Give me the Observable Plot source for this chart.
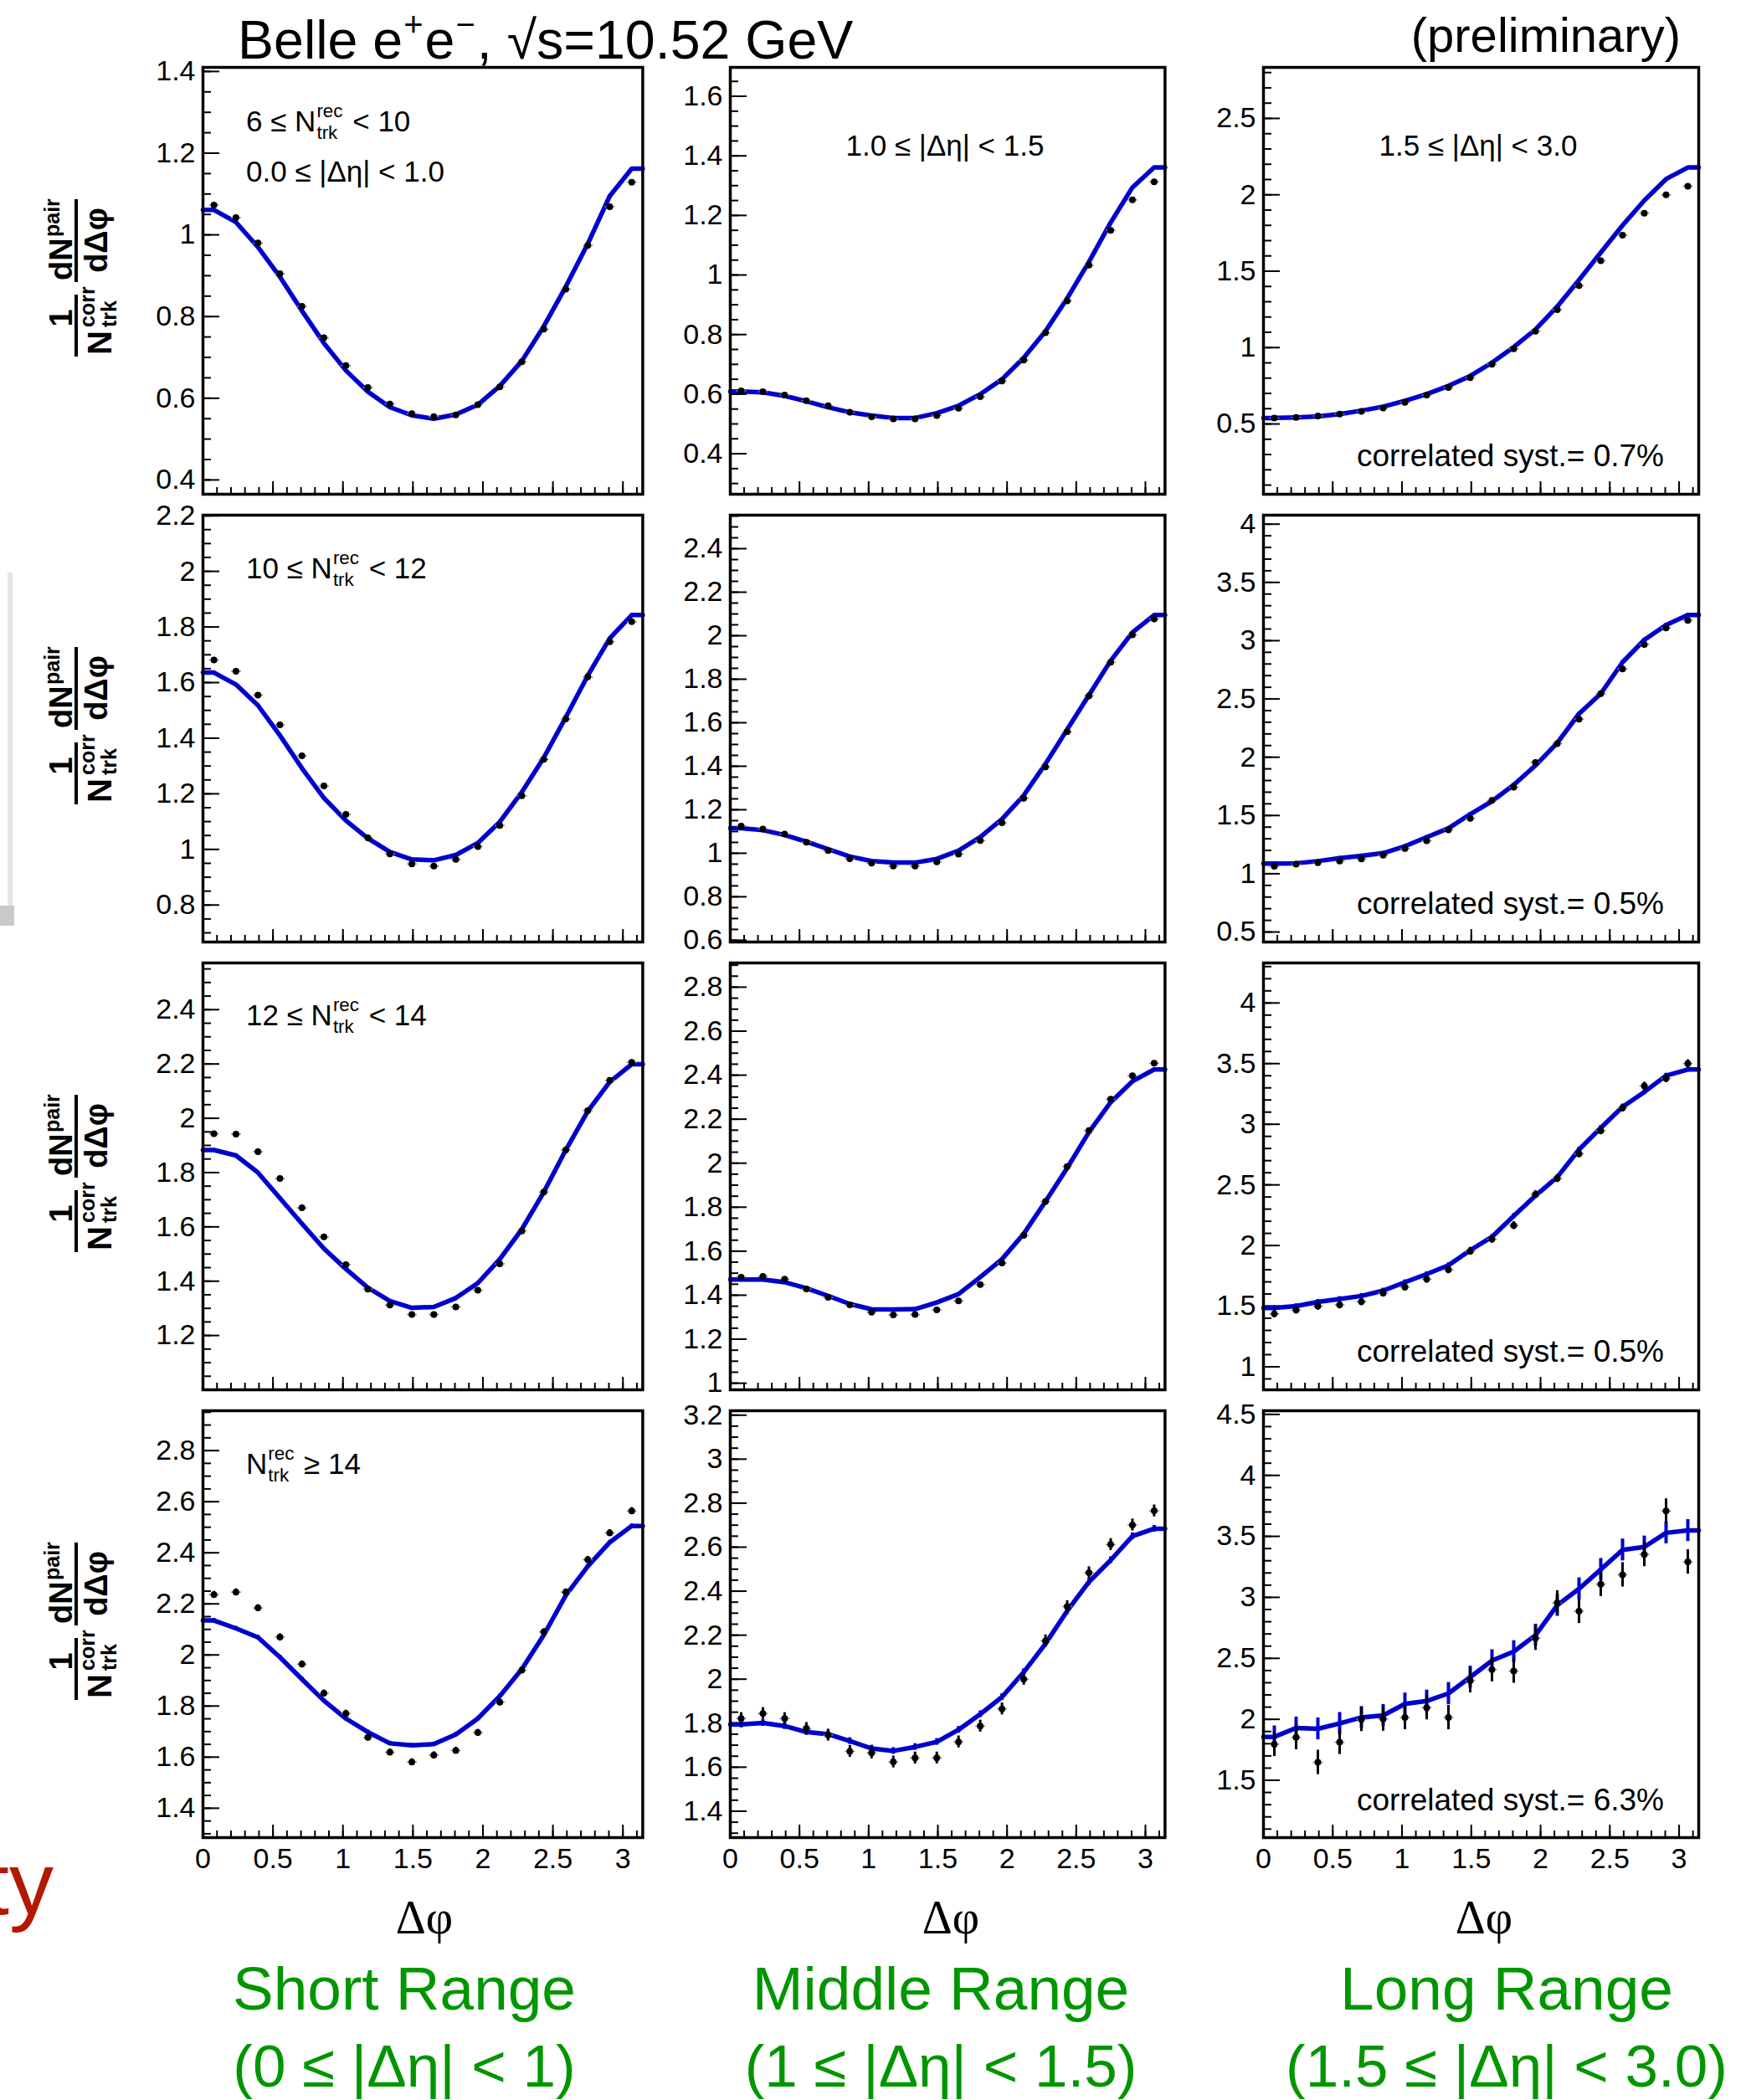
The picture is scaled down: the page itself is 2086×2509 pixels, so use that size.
<!DOCTYPE html>
<html><head><meta charset="utf-8">
<script src="https://cdn.jsdelivr.net/npm/d3@7"></script>
<script src="https://cdn.jsdelivr.net/npm/@observablehq/plot@0.6"></script>
<style>
body{margin:0;background:#fff;}
#root{position:relative;width:2086px;height:2509px;overflow:hidden;background:#fff;font-family:"Liberation Sans",Arial,sans-serif;}
#root > svg{position:absolute;}
</style></head><body><div id="root"></div>
<script>
// ---------- data ----------
const binCenters = [0.0785,0.2356,0.3927,0.5498,0.7069,0.8639,1.0210,1.1781,1.3352,1.4923,1.6493,1.8064,1.9635,2.1206,2.2777,2.4347,2.5918,2.7489,2.9060,3.0631];
const xTickValues = [0,0.5,1,1.5,2,2.5,3];

// 6 <= Ntrk < 10
const data6to10Short  = [1.073,1.042,0.980,0.905,0.825,0.748,0.680,0.626,0.586,0.562,0.555,0.559,0.584,0.628,0.689,0.769,0.867,0.974,1.069,1.129];
const fit6to10Short   = [1.061,1.031,0.970,0.897,0.814,0.735,0.668,0.616,0.578,0.558,0.550,0.560,0.584,0.630,0.691,0.776,0.873,0.978,1.095,1.162];
const data6to10Middle = [0.611,0.608,0.597,0.578,0.561,0.539,0.524,0.517,0.517,0.528,0.553,0.591,0.644,0.714,0.806,0.913,1.033,1.150,1.252,1.313];
const fit6to10Middle  = [0.609,0.606,0.594,0.576,0.556,0.539,0.528,0.520,0.520,0.536,0.561,0.600,0.650,0.722,0.811,0.922,1.044,1.176,1.294,1.361];
const data6to10Long   = [0.539,0.543,0.552,0.565,0.582,0.604,0.641,0.689,0.738,0.803,0.890,0.992,1.107,1.248,1.406,1.568,1.735,1.880,2.000,2.056];
const fit6to10Long    = [0.539,0.543,0.550,0.565,0.587,0.613,0.652,0.695,0.749,0.814,0.901,1.003,1.118,1.269,1.443,1.622,1.800,1.963,2.103,2.179];
// 10 <= Ntrk < 12
const data10to12Short  = [1.681,1.641,1.555,1.448,1.337,1.228,1.126,1.042,0.984,0.948,0.940,0.964,1.010,1.086,1.193,1.324,1.469,1.620,1.747,1.819];
const fit10to12Short   = [1.636,1.593,1.518,1.410,1.292,1.185,1.104,1.040,0.991,0.964,0.961,0.980,1.023,1.099,1.206,1.330,1.475,1.625,1.759,1.843];
const data10to12Middle = [1.125,1.111,1.088,1.051,1.012,0.975,0.955,0.941,0.941,0.960,0.996,1.058,1.140,1.253,1.397,1.559,1.723,1.878,2.004,2.077];
const fit10to12Middle  = [1.115,1.106,1.084,1.053,1.019,0.985,0.964,0.957,0.957,0.974,1.012,1.074,1.157,1.266,1.411,1.569,1.727,1.885,2.015,2.095];
const data10to12Long   = [1.064,1.082,1.095,1.108,1.126,1.159,1.216,1.283,1.377,1.475,1.629,1.742,1.955,2.117,2.327,2.545,2.758,2.968,3.109,3.174];
const fit10to12Long    = [1.088,1.090,1.108,1.134,1.154,1.177,1.236,1.313,1.390,1.511,1.622,1.762,1.929,2.122,2.373,2.545,2.815,3.007,3.135,3.220];
// 12 <= Ntrk < 14
const data12to14Short  = [1.943,1.942,1.877,1.778,1.670,1.563,1.461,1.371,1.312,1.277,1.277,1.305,1.367,1.464,1.585,1.728,1.883,2.028,2.140,2.206];
const fit12to14Short   = [1.883,1.863,1.800,1.706,1.612,1.520,1.445,1.376,1.327,1.302,1.305,1.338,1.393,1.481,1.591,1.728,1.883,2.026,2.134,2.199];
const data12to14Middle = [1.482,1.485,1.473,1.428,1.390,1.356,1.323,1.310,1.312,1.333,1.374,1.448,1.546,1.672,1.826,1.985,2.148,2.291,2.397,2.454];
const fit12to14Middle  = [1.471,1.471,1.459,1.432,1.397,1.360,1.336,1.335,1.337,1.367,1.405,1.482,1.564,1.679,1.826,1.978,2.141,2.277,2.372,2.426];
const data12to14Long   = [1.436,1.468,1.500,1.510,1.537,1.608,1.658,1.722,1.800,1.953,2.052,2.165,2.421,2.552,2.756,2.946,3.135,3.315,3.377,3.500];
const fit12to14Long    = [1.485,1.500,1.535,1.559,1.584,1.628,1.697,1.764,1.837,1.961,2.071,2.244,2.411,2.564,2.791,2.970,3.143,3.266,3.401,3.451];
// Ntrk >= 14
const data14upShort  = [2.236,2.246,2.184,2.070,1.964,1.850,1.771,1.677,1.619,1.581,1.608,1.626,1.696,1.815,1.940,2.090,2.246,2.373,2.478,2.564];
const fit14upShort   = [2.135,2.104,2.069,1.991,1.905,1.821,1.751,1.698,1.654,1.646,1.651,1.689,1.751,1.839,1.944,2.078,2.233,2.347,2.441,2.505];
const data14upMiddle = [1.821,1.844,1.821,1.776,1.746,1.672,1.665,1.624,1.642,1.642,1.715,1.787,1.865,2.000,2.174,2.330,2.484,2.612,2.701,2.765];
const fit14upMiddle  = [1.794,1.801,1.787,1.760,1.750,1.719,1.685,1.674,1.692,1.715,1.770,1.841,1.919,2.032,2.161,2.310,2.442,2.541,2.650,2.684];
const data14upLong   = [1.795,1.851,1.647,1.812,2.000,2.003,2.015,2.096,2.015,2.317,2.408,2.396,2.665,2.955,2.886,3.107,3.185,3.352,3.708,3.291];
const fit14upLong    = [1.856,1.929,1.922,1.966,2.015,2.032,2.126,2.150,2.212,2.346,2.481,2.555,2.690,2.935,3.070,3.229,3.389,3.413,3.529,3.548];

// statistical errors (per panel, row-major)
const dataErrors = [0.004,0.004,0.006, 0.005,0.005,0.022, 0.007,0.008,0.032, 0.013,0.027,0.10];
const fitErrors  = [0.003,0.003,0.005, 0.004,0.004,0.015, 0.005,0.006,0.02,  0.008,0.015,0.09];

// y tick labels
const yTicks6to10Short   = [0.4,0.6,0.8,1,1.2,1.4];
const yTicks6to10Middle  = [0.4,0.6,0.8,1,1.2,1.4,1.6];
const yTicks6to10Long    = [0.5,1,1.5,2,2.5];
const yTicks10to12Short  = [0.8,1,1.2,1.4,1.6,1.8,2,2.2];
const yTicks10to12Middle = [0.6,0.8,1,1.2,1.4,1.6,1.8,2,2.2,2.4];
const yTicks10to12Long   = [0.5,1,1.5,2,2.5,3,3.5,4];
const yTicks12to14Short  = [1.2,1.4,1.6,1.8,2,2.2,2.4];
const yTicks12to14Middle = [1,1.2,1.4,1.6,1.8,2,2.2,2.4,2.6,2.8];
const yTicks12to14Long   = [1,1.5,2,2.5,3,3.5,4];
const yTicks14upShort    = [1.4,1.6,1.8,2,2.2,2.4,2.6,2.8];
const yTicks14upMiddle   = [1.4,1.6,1.8,2,2.2,2.4,2.6,2.8,3,3.2];
const yTicks14upLong     = [1.5,2,2.5,3,3.5,4,4.5];

const multLabels = [["6 ≤ ", "rec", "trk", " < 10"], ["10 ≤ ", "rec", "trk", " < 12"], ["12 ≤ ", "rec", "trk", " < 14"], ["", "rec", "trk", " ≥ 14"]];
const systLabels = ["correlated syst.= 0.7%", "correlated syst.= 0.5%", "correlated syst.= 0.5%", "correlated syst.= 6.3%"];
const rangeNames = ["Short Range", "Middle Range", "Long Range"];
const rangeIntervals = ["(0 ≤ |Δη| < 1)", "(1 ≤ |Δη| < 1.5)", "(1.5 ≤ |Δη| < 3.0)"];

// ---------- layout ----------
const colX = [241.6, 871.6, 1509];
const colW = [525.4, 519.4, 520];
const rowY = [80, 615, 1150, 1685];
const rowH = 510;
const BLUE = "#0000cc";
const FONT = "'Liberation Sans', Arial, Helvetica, sans-serif";

const panels = [
  {data:data6to10Short,  fit:fit6to10Short,  yDomain:[0.365,1.41], yTicks:yTicks6to10Short,  minor:0.05},
  {data:data6to10Middle, fit:fit6to10Middle, yDomain:[0.264,1.697], yTicks:yTicks6to10Middle, minor:0.05},
  {data:data6to10Long,   fit:fit6to10Long,   yDomain:[0.04,2.834], yTicks:yTicks6to10Long,   minor:0.1},
  {data:data10to12Short, fit:fit10to12Short, yDomain:[0.667,2.202], yTicks:yTicks10to12Short, minor:0.05},
  {data:data10to12Middle,fit:fit10to12Middle,yDomain:[0.592,2.554], yTicks:yTicks10to12Middle,minor:0.05},
  {data:data10to12Long,  fit:fit10to12Long,  yDomain:[0.414,4.077], yTicks:yTicks10to12Long,  minor:0.1},
  {data:data12to14Short, fit:fit12to14Short, yDomain:[1.0,2.572],  yTicks:yTicks12to14Short, minor:0.05},
  {data:data12to14Middle,fit:fit12to14Middle,yDomain:[0.97,2.91],  yTicks:yTicks12to14Middle,minor:0.05},
  {data:data12to14Long,  fit:fit12to14Long,  yDomain:[0.81,4.33],  yTicks:yTicks12to14Long,  minor:0.1},
  {data:data14upShort,   fit:fit14upShort,   yDomain:[1.285,2.956], yTicks:yTicks14upShort,   minor:0.05},
  {data:data14upMiddle,  fit:fit14upMiddle,  yDomain:[1.28,3.22],  yTicks:yTicks14upMiddle,  minor:0.05},
  {data:data14upLong,    fit:fit14upLong,    yDomain:[1.03,4.53],  yTicks:yTicks14upLong,    minor:0.1}
];

const root = document.getElementById("root");
const fmt = d3.format("~g");
const xMinor = d3.range(0, 32).map(i => i / 10);

panels.forEach((p, k) => {
  const row = Math.floor(k / 3), col = k % 3;
  const W = colW[col], H = rowH;
  const ml = 130, mr = 6, mt = 6, mb = row === 3 ? 70 : 6;
  const pts = binCenters.map((x, i) => ({x, y: p.data[i]}));
  const fitPts = binCenters.map((x, i) => ({x, y: p.fit[i]}));
  const lineData = [{x: 0, y: p.fit[0]}, ...fitPts, {x: Math.PI, y: p.fit[p.fit.length - 1]}];
  const lo = Math.ceil(p.yDomain[0] / p.minor - 1e-6), hi = Math.floor(p.yDomain[1] / p.minor + 1e-6);
  const yMinor = d3.range(lo, hi + 1).map(i => +(i * p.minor).toFixed(3));
  const de = dataErrors[k], fe = fitErrors[k];
  const marks = [
    Plot.tickY(yMinor, {y: d => d, insetRight: W - 10, stroke: "black", strokeWidth: 2}),
    Plot.tickY(p.yTicks, {y: d => d, insetRight: W - 20, stroke: "black", strokeWidth: 2}),
    Plot.tickX(xMinor, {x: d => d, insetTop: H - 8, stroke: "black", strokeWidth: 2}),
    Plot.tickX(xTickValues, {x: d => d, insetTop: H - 15, stroke: "black", strokeWidth: 2}),
    Plot.axisY(p.yTicks, {anchor: "left", tickSize: 0, tickPadding: 9, fontSize: 34, tickFormat: fmt, label: null, fill: "black"}),
    Plot.ruleX(fitPts, {x: "x", y1: d => d.y - fe, y2: d => d.y + fe, stroke: BLUE, strokeWidth: 4}),
    Plot.line(lineData, {x: "x", y: "y", stroke: BLUE, strokeWidth: 5.5}),
    Plot.link(pts, {x1: d => d.x - 0.036, x2: d => d.x + 0.036, y1: "y", y2: "y", stroke: "#888", strokeWidth: 1.5}),
    Plot.ruleX(pts, {x: "x", y1: d => d.y - de, y2: d => d.y + de, stroke: "black", strokeWidth: 3}),
    Plot.dot(pts, {x: "x", y: "y", r: 4, fill: "black"}),
    Plot.frame({stroke: "black", strokeWidth: 3.5})
  ];
  if (row === 3) marks.push(Plot.axisX(xTickValues, {anchor: "bottom", tickSize: 0, tickPadding: 12, fontSize: 34, tickFormat: fmt, label: null, fill: "black"}));
  const svg = Plot.plot({
    width: W + ml + mr, height: H + mt + mb,
    marginLeft: ml, marginRight: mr, marginTop: mt, marginBottom: mb,
    x: row === 3 ? {domain: [0, Math.PI]} : {domain: [0, Math.PI], axis: null},
    y: {domain: p.yDomain, axis: null},
    style: {fontFamily: FONT, background: "transparent", overflow: "visible", color: "black"},
    marks
  });
  svg.style.position = "absolute";
  svg.style.left = (colX[col] - ml) + "px";
  svg.style.top = (rowY[row] - mt) + "px";
  root.appendChild(svg);
});

// ---------- text overlay ----------
const ov = d3.select(root).append("svg").attr("width", 2086).attr("height", 2509)
  .style("left", "0px").style("top", "0px").attr("font-family", FONT);

function rich(parent, x, y, parts, size, opts = {}) {
  const g = parent.append("g").attr("font-size", size);
  if (opts.weight) g.attr("font-weight", opts.weight);
  if (opts.fill) g.attr("fill", opts.fill);
  let cx = 0;
  for (const p of parts) {
    if (typeof p === "string") {
      if (!p) continue;
      const t = g.append("text").attr("x", cx).attr("y", 0).style("white-space", "pre").attr("xml:space", "preserve").text(p);
      cx += t.node().getComputedTextLength();
    } else {
      const ss = size * (p.scale || 0.62);
      let w = 0;
      if (p.sup) { const t = g.append("text").attr("x", cx + 1).attr("y", -size * (p.supShift || 0.5)).attr("font-size", ss).text(p.sup); w = Math.max(w, t.node().getComputedTextLength()); }
      if (p.sub) { const t = g.append("text").attr("x", cx + 1).attr("y", size * 0.27).attr("font-size", ss).text(p.sub); w = Math.max(w, t.node().getComputedTextLength()); }
      cx += w + 3;
    }
  }
  const shift = opts.anchor === "end" ? -cx : opts.anchor === "middle" ? -cx / 2 : 0;
  g.attr("transform", `translate(${x + shift},${y})`);
  return g;
}

// title
rich(ov, 284, 70, ["Belle e", {sup: "+", supShift: 0.42}, "e", {sup: "−", supShift: 0.42}, ", √s=10.52 GeV"], 64.5);
rich(ov, 2008, 62, ["(preliminary)"], 58, {anchor: "end"});

// panel labels
const labelSize = 35;
multLabels.forEach((m, r) => {
  const parts = [m[0] + "N", {sup: m[1], sub: m[2], scale: 0.64, supShift: 0.5}, m[3]];
  const base = [157, 691, 1225, 1761][r];
  rich(ov, 294, base, parts, labelSize);
  rich(ov, 1988, [557, 1092, 1627, 2163][r], [systLabels[r]], 37, {anchor: "end"});
});
rich(ov, 294, 217, ["0.0 ≤ |Δη| < 1.0"], labelSize);
rich(ov, 1129, 186, ["1.0 ≤ |Δη| < 1.5"], labelSize, {anchor: "middle"});
rich(ov, 1766, 186, ["1.5 ≤ |Δη| < 3.0"], labelSize, {anchor: "middle"});

// y-axis labels (rotated fractions)
rowY.forEach((ry) => {
  const cy = ry + rowH / 2 - 2;
  const g = ov.append("g").attr("transform", `translate(91,${cy}) rotate(-90)`).attr("font-weight", "bold");
  // 1 / N^corr_trk
  g.append("text").attr("x", -47).attr("y", -5).attr("font-size", 38).attr("text-anchor", "middle").text("1");
  g.append("line").attr("x1", -93).attr("x2", -19).attr("y1", 0).attr("y2", 0).attr("stroke", "black").attr("stroke-width", 4);
  g.append("text").attr("x", -91).attr("y", 42).attr("font-size", 40).text("N");
  g.append("text").attr("x", -58).attr("y", 22).attr("font-size", 25).text("corr");
  g.append("text").attr("x", -58).attr("y", 48).attr("font-size", 25).text("trk");
  // dN^pair / dΔφ
  g.append("text").attr("x", -2).attr("y", -5).attr("font-size", 38).text("dN");
  g.append("text").attr("x", 50).attr("y", -20).attr("font-size", 25).text("pair");
  g.append("line").attr("x1", -4).attr("x2", 95).attr("y1", 0).attr("y2", 0).attr("stroke", "black").attr("stroke-width", 4);
  g.append("text").attr("x", 46).attr("y", 37).attr("font-size", 38).attr("text-anchor", "middle").text("dΔφ");
});

// x-axis labels
[507, 1136, 1773].forEach(cx => {
  ov.append("text").attr("x", cx).attr("y", 2310).attr("text-anchor", "middle")
    .attr("font-family", "'Liberation Serif', 'DejaVu Serif', serif").attr("font-size", 56).text("Δφ");
});

// green range labels
const rangeCenters = [483, 1124, 1800];
rangeNames.forEach((t, i) => {
  ov.append("text").attr("x", rangeCenters[i]).attr("y", 2401).attr("text-anchor", "middle").attr("font-size", 73).attr("fill", "#009600").text(t);
  ov.append("text").attr("x", rangeCenters[i]).attr("y", 2493).attr("text-anchor", "middle").attr("font-size", 71).attr("fill", "#009600").text(rangeIntervals[i]);
});

// slide remnants at the left edge
ov.append("rect").attr("x", 9).attr("y", 684).attr("width", 6).attr("height", 400).attr("fill", "#e4e4e4");
ov.append("rect").attr("x", 0).attr("y", 1082).attr("width", 17).attr("height", 24).attr("fill", "#c9c9c9");
ov.append("text").attr("x", 64).attr("y", 2287).attr("text-anchor", "end").attr("font-size", 106).attr("fill", "#b41800").text("ty");
</script>
</body></html>
